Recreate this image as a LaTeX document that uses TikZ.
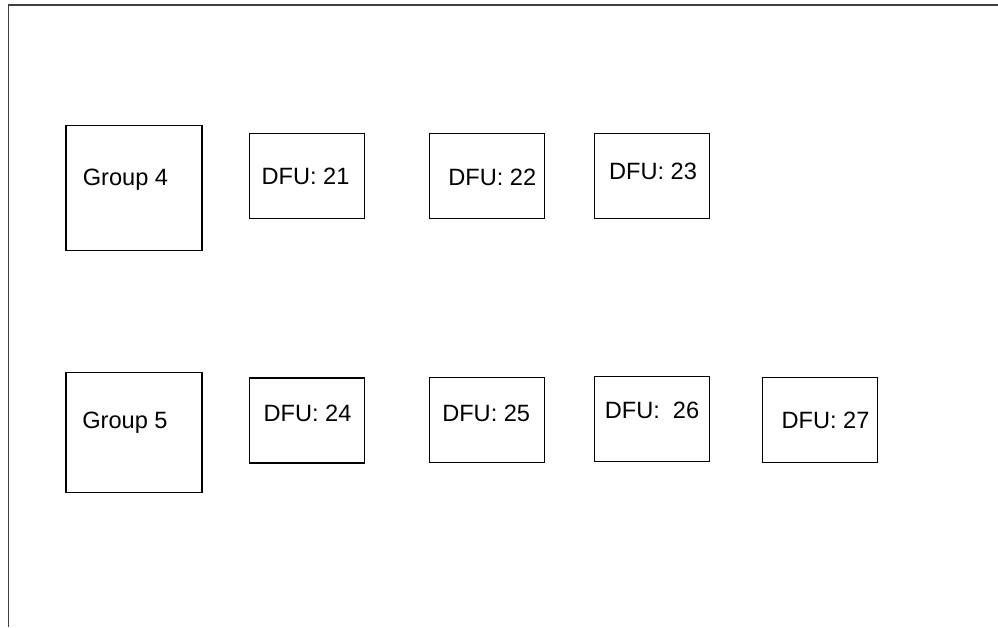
\documentclass[tikz,border=0pt]{standalone}
\usepackage{fontspec}
\setmainfont{Liberation Sans}
\usetikzlibrary{positioning}

\begin{document}
\begin{tikzpicture}[x=1pt, y=-1pt,
	grp/.style={draw, line width=1.1pt, minimum width=136pt, inner sep=0pt},
	dfu/.style={draw, line width=1.1pt, minimum width=115pt, minimum height=85pt, inner sep=0pt},
	txt/.style={font=\fontsize{23.6}{28}\selectfont, inner sep=0pt}]
	\useasboundingbox (0,0) rectangle (998,627);
	\draw[line width=1.6pt, black!75] (8.5,627) -- (8.5,5) -- (998,5);

	\node[grp, minimum height=124.5pt] (g4)  at (134,187.8)   {};
	\node[dfu]                         (d21) at (306.8,175.8) {};
	\node[dfu]                         (d22) at (486.8,175.8) {};
	\node[dfu]                         (d23) at (651.7,175.8) {};

	\node[grp, minimum height=120pt]   (g5)  at (134,432.7)   {};
	\node[dfu]                         (d24) at (306.7,420.5) {};
	\node[dfu]                         (d25) at (486.8,419.7) {};
	\node[dfu]                         (d26) at (651.8,419.2) {};
	\node[dfu]                         (d27) at (819.8,420)   {};

	\node[txt] (t4)  at ([shift={(-8.5,-8.3)}]g4.center)  {Group 4};
	\node[txt] (t21) at ([shift={(-1.3,0.5)}]d21.center)  {DFU: 21};
	\node[txt] (t22) at ([shift={(5.5,1.7)}]d22.center)   {DFU: 22};
	\node[txt] (t23) at ([shift={(1.3,-4.8)}]d23.center)  {DFU: 23};

	\node[txt] (t5)  at ([shift={(-9,-9.5)}]g5.center)    {Group 5};
	\node[txt] (t24) at ([shift={(0.8,-6.7)}]d24.center)  {DFU: 24};
	\node[txt] (t25) at ([shift={(-0.6,-5.9)}]d25.center) {DFU: 25};
	\node[txt] (t26) at ([shift={(0.2,-9.2)}]d26.center)  {DFU:\ \ 26};
	\node[txt] (t27) at ([shift={(5.7,0)}]d27.center)     {DFU: 27};
\end{tikzpicture}
\end{document}
